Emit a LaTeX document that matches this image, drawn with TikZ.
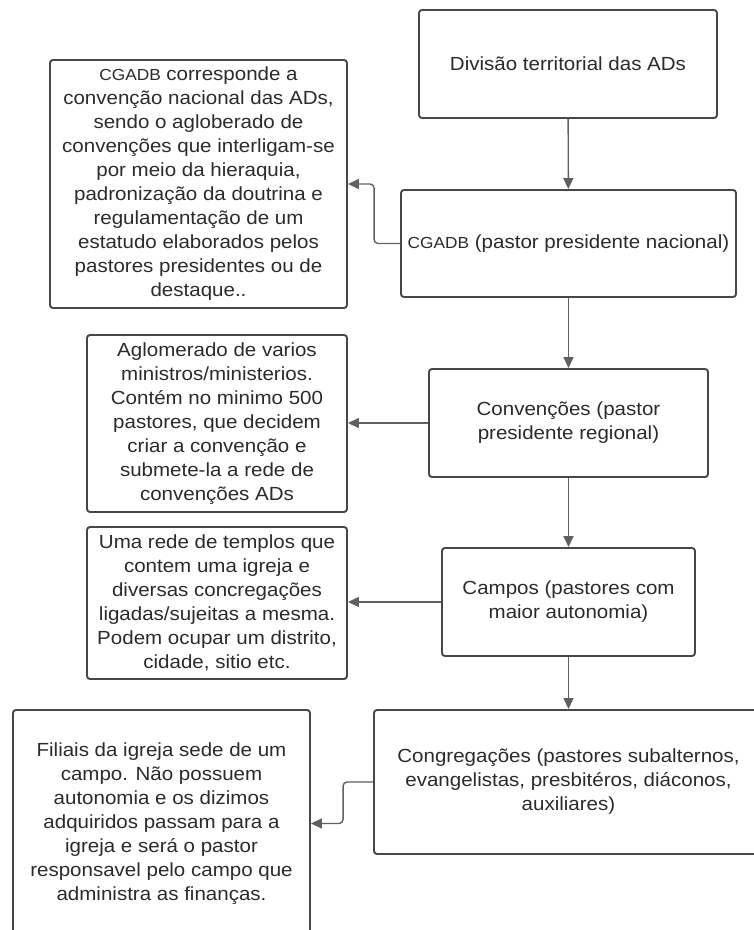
\documentclass[tikz,border=0pt]{standalone}
\usepackage{fontspec}
\setmainfont{Liberation Sans}[FakeStretch=1.08]
\usetikzlibrary{arrows.meta}

\definecolor{boxgray}{HTML}{474747}
\definecolor{linegray}{HTML}{606060}
\definecolor{textgray}{HTML}{2B2B2B}
\newcommand{\cgadb}{{\fontsize{16}{24}\selectfont CGADB}}

\begin{document}
\begin{tikzpicture}[x=1pt,y=-1pt,
    box/.style={draw=boxgray,line width=1.9pt,rounded corners=3pt,align=center,
        inner sep=2pt,text=textgray,font=\fontsize{19}{24}\selectfont},
    conn/.style={draw=linegray,line width=1.4pt,rounded corners=4pt,
        -{Triangle[length=11pt,width=10pt]}}]
    % Page
    \fill[white] (0,0) rectangle (754,930);
    \useasboundingbox (0,0) rectangle (754,930);

    % Main column
    \node[box,minimum width=298pt,minimum height=108pt] (divisao) at (568,64)
        {Divisão territorial das ADs};
    \node[box,minimum width=335pt,minimum height=107pt] (nacional) at (568.5,243.5)
        {\cgadb{} (pastor presidente nacional)};
    \node[box,minimum width=279pt,minimum height=108pt] (convencoes) at (568.5,423)
        {Convenções (pastor\\presidente regional)};
    \node[box,minimum width=253pt,minimum height=108pt] (campos) at (568.5,602)
        {Campos (pastores com\\maior autonomia)};
    \node[box,minimum width=389pt,minimum height=144pt] (congregacoes) at (568.5,782)
        {Congregações (pastores subalternos,\\evangelistas, presbitéros, diáconos,\\auxiliares)};

    % Notes on the left
    \node[box,minimum width=297pt,minimum height=248pt] (notanacional) at (198.5,184)
        {\cgadb{} corresponde a\\convenção nacional das ADs,\\sendo o agloberado de\\convenções que interligam-se\\por meio da hieraquia,\\padronização da doutrina e\\regulamentação de um\\estatudo elaborados pelos\\pastores presidentes ou de\\destaque..};
    \node[box,minimum width=260pt,minimum height=177pt] (notaconvencoes) at (217,423.5)
        {Aglomerado de varios\\ministros/ministerios.\\Contém no minimo 500\\pastores, que decidem\\criar a convenção e\\submete-la a rede de\\convenções ADs};
    \node[box,minimum width=260pt,minimum height=152pt] (notacampos) at (217,603)
        {Uma rede de templos que\\contem uma igreja e\\diversas concregações\\ligadas/sujeitas a mesma.\\Podem ocupar um distrito,\\cidade, sitio etc.};
    \node[box,minimum width=297pt,minimum height=227pt] (notacongregacoes) at (161.5,823.5)
        {Filiais da igreja sede de um\\campo. Não possuem\\autonomia e os dizimos\\adquiridos passam para a\\igreja e será o pastor\\responsavel pelo campo que\\administra as finanças.};

    % Connectors down the column
    \draw[conn] (divisao) -- (nacional);
    \draw[conn] (nacional) -- (convencoes);
    \draw[conn] (convencoes) -- (campos);
    \draw[conn] (campos) -- (congregacoes);

    % Connectors to the notes
    \draw[conn] (nacional.west) -- ++(-26,0) |- (notanacional.east);
    \draw[conn] (convencoes.west) -- (convencoes.west -| notaconvencoes.east);
    \draw[conn] (campos.west) -- (campos.west -| notacampos.east);
    \draw[conn] (congregacoes.west) -- ++(-30,0) |- (notacongregacoes.east);
\end{tikzpicture}
\end{document}
